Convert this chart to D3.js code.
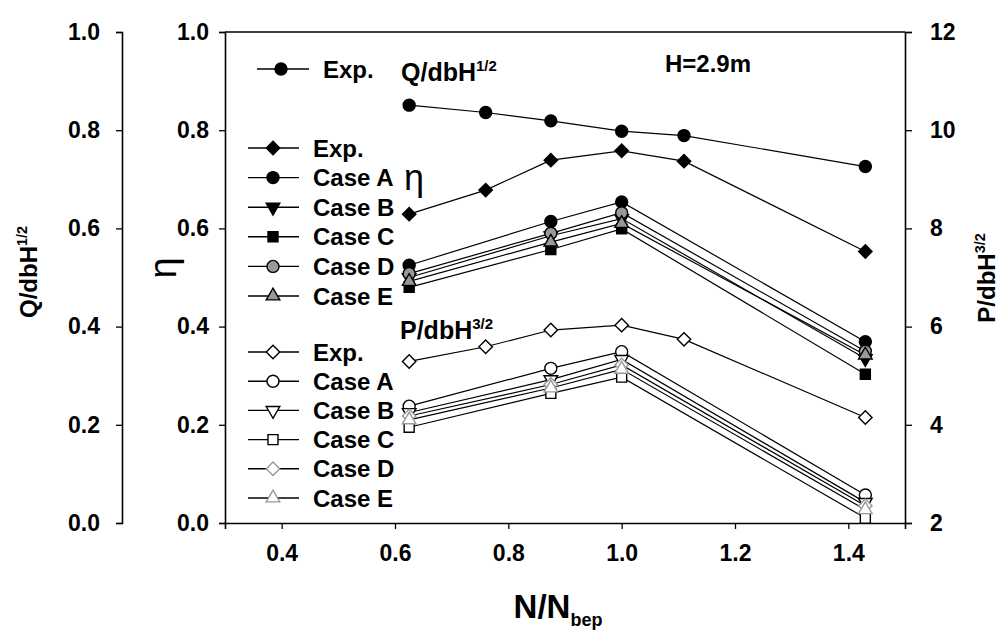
<!DOCTYPE html>
<html lang="en">
<head>
<meta charset="UTF-8">
<title>Pump performance vs N/Nbep</title>
<script src="https://d3js.org/d3.v7.min.js"></script>
<style>
  body { margin: 0; background: #fff; }
  text { font-family: "Liberation Sans", Arial, sans-serif; font-weight: bold; fill: #000; }
</style>
</head>
<body>
<svg class="canvas"></svg>
<script>
// ---- data ----
var xExp  = [0.625, 0.76, 0.875, 1.0, 1.11, 1.43];
var xCase = [0.625, 0.875, 1.0, 1.43];

var qExp   = [0.851, 0.836, 0.819, 0.798, 0.789, 0.726];
var etaExp = [0.629, 0.678, 0.739, 0.758, 0.737, 0.553];
var etaA = [0.525, 0.614, 0.654, 0.369];
var etaB = [0.500, 0.585, 0.620, 0.335];
var etaC = [0.480, 0.557, 0.599, 0.303];
var etaD = [0.508, 0.590, 0.632, 0.350];
var etaE = [0.492, 0.572, 0.610, 0.342];

var pExp = [5.29, 5.59, 5.93, 6.03, 5.74, 4.15];
var pA = [4.38, 5.15, 5.49, 2.57];
var pB = [4.25, 4.92, 5.33, 2.42];
var pC = [3.95, 4.64, 4.97, 2.10];
var pD = [4.18, 4.82, 5.22, 2.35];
var pE = [4.10, 4.75, 5.13, 2.27];

var xTicks = [0.4, 0.6, 0.8, 1.0, 1.2, 1.4];
var leftTicks = [0, 0.2, 0.4, 0.6, 0.8, 1.0];
var rightTicks = [2, 4, 6, 8, 10, 12];
var caseNames = ['Exp.', 'Case A', 'Case B', 'Case C', 'Case D', 'Case E'];

// ---- layout ----
var W = 1003, H = 636;
var plotL = 225, plotR = 905, plotT = 32, plotB = 523;

var svg = d3.select('svg').attr('width', W).attr('height', H);

var x = d3.scaleLinear().domain([0.3, 1.5]).range([plotL, plotR]);
var yL = d3.scaleLinear().domain([0, 1]).range([plotB, plotT]);
var yR = d3.scaleLinear().domain([2, 12]).range([plotB, plotT]);

function styleAxis(g, size) {
    g.select('.domain').attr('stroke', '#000').attr('stroke-width', 1.6);
    g.selectAll('.tick line').attr('stroke', '#000').attr('stroke-width', 1.3);
    g.selectAll('.tick text').style('font-size', size + 'px')
        .style('font-family', '"Liberation Sans", Arial, sans-serif').style('font-weight', 'bold');
}

// frame top
svg.append('line').attr('x1', plotL).attr('x2', plotR).attr('y1', plotT).attr('y2', plotT)
    .attr('stroke', '#000').attr('stroke-width', 1.4);

// x axis
var gx = svg.append('g').attr('transform', 'translate(0,' + plotB + ')')
    .call(d3.axisBottom(x).tickValues(xTicks).tickFormat(d3.format('.1f')).tickSizeOuter(0).tickSize(6).tickPadding(16));
styleAxis(gx, 23);

// inner eta axis
var gi = svg.append('g').attr('transform', 'translate(' + plotL + ',0)')
    .call(d3.axisLeft(yL).tickValues(leftTicks).tickFormat(d3.format('.1f')).tickSizeOuter(0).tickSize(6).tickPadding(10));
styleAxis(gi, 23);

// outer Q axis
var go = svg.append('g').attr('transform', 'translate(122,0)')
    .call(d3.axisLeft(yL).tickValues(leftTicks).tickFormat(d3.format('.1f')).tickSizeOuter(0).tickSize(6).tickPadding(16));
styleAxis(go, 23);

// right P axis
var gr = svg.append('g').attr('transform', 'translate(' + plotR + ',0)')
    .call(d3.axisRight(yR).tickValues(rightTicks).tickSizeOuter(0).tickSize(7).tickPadding(18));
styleAxis(gr, 23);

// ---- marker shapes ----
function marker(sel, kind, cx, cy) {
    var g = sel.append('g').attr('transform', 'translate(' + cx + ',' + cy + ')');
    var s = kind.shape, fill = kind.fill, stroke = kind.stroke || '#000';
    if (s === 'circle') {
        g.append('circle').attr('r', 6).attr('fill', fill).attr('stroke', stroke).attr('stroke-width', 1.4);
    } else if (s === 'diamond') {
        g.append('path').attr('d', d3.symbol().type(d3.symbolSquare).size(90)())
            .attr('transform', 'rotate(45)').attr('fill', fill).attr('stroke', stroke).attr('stroke-width', 1.4);
    } else if (s === 'square') {
        g.append('path').attr('d', d3.symbol().type(d3.symbolSquare).size(100)())
            .attr('fill', fill).attr('stroke', stroke).attr('stroke-width', 1.4);
    } else if (s === 'tdown') {
        g.append('path').attr('d', d3.symbol().type(d3.symbolTriangle).size(80)())
            .attr('transform', 'rotate(180)').attr('fill', fill).attr('stroke', stroke).attr('stroke-width', 1.4);
    } else if (s === 'tup') {
        g.append('path').attr('d', d3.symbol().type(d3.symbolTriangle).size(80)())
            .attr('fill', fill).attr('stroke', stroke).attr('stroke-width', 1.4);
    }
}

var line = function(xs, ys, yScale) {
    return d3.line().x(function(d, i) { return x(xs[i]); }).y(function(d) { return yScale(d); })(ys);
};

var series = [
    { xs: xExp,  ys: qExp,   y: yL, shape: 'circle',  fill: '#000' },
    { xs: xExp,  ys: etaExp, y: yL, shape: 'diamond', fill: '#000' },
    { xs: xCase, ys: etaA,   y: yL, shape: 'circle',  fill: '#000' },
    { xs: xCase, ys: etaB,   y: yL, shape: 'tdown',   fill: '#000' },
    { xs: xCase, ys: etaC,   y: yL, shape: 'square',  fill: '#000' },
    { xs: xCase, ys: etaD,   y: yL, shape: 'circle',  fill: '#999' },
    { xs: xCase, ys: etaE,   y: yL, shape: 'tup',     fill: '#999' },
    { xs: xExp,  ys: pExp,   y: yR, shape: 'diamond', fill: '#fff' },
    { xs: xCase, ys: pA,     y: yR, shape: 'circle',  fill: '#fff' },
    { xs: xCase, ys: pB,     y: yR, shape: 'tdown',   fill: '#fff' },
    { xs: xCase, ys: pC,     y: yR, shape: 'square',  fill: '#fff' },
    { xs: xCase, ys: pD,     y: yR, shape: 'diamond', fill: '#fff', stroke: '#999' },
    { xs: xCase, ys: pE,     y: yR, shape: 'tup',     fill: '#fff', stroke: '#999' }
];

var plot = svg.append('g');
series.forEach(function(s) {
    plot.append('path').attr('d', line(s.xs, s.ys, s.y))
        .attr('fill', 'none').attr('stroke', '#000').attr('stroke-width', 1.2);
});
series.forEach(function(s) {
    s.ys.forEach(function(v, i) { marker(plot, s, x(s.xs[i]), s.y(v)); });
});

// ---- legends ----
function legendRow(s, y, x0, x1, mx, tx, label) {
    svg.append('line').attr('x1', x0).attr('x2', x1).attr('y1', y).attr('y2', y)
        .attr('stroke', '#000').attr('stroke-width', 1.4);
    marker(svg, s, mx, y);
    svg.append('text').attr('x', tx).attr('y', y).attr('dy', '0.36em')
        .style('font-size', '24px').text(label);
}
legendRow(series[0], 69, 257, 309, 281, 323, 'Exp.');
for (var i = 0; i < 6; i++) {
    legendRow(series[1 + i], 148 + i * 29.6, 248, 299, 273, 313, caseNames[i]);
    legendRow(series[7 + i], 352 + i * 29.2, 248, 299, 273, 313, caseNames[i]);
}

// ---- labels ----
function supLabel(g, base, sup, size) {
    var t = g.append('text').style('font-size', size + 'px');
    t.append('tspan').text(base);
    t.append('tspan').attr('dy', -size * 0.42).style('font-size', (size * 0.6) + 'px').text(sup);
    return t;
}
supLabel(svg, 'Q/dbH', '1/2', 25).attr('x', 401).attr('y', 81);
supLabel(svg, 'P/dbH', '3/2', 25).attr('x', 400).attr('y', 339);
svg.append('text').attr('x', 665).attr('y', 72).style('font-size', '24px').text('H=2.9m');
svg.append('text').attr('x', 404).attr('y', 190).style('font-size', '36px')
    .style('font-weight', 'normal').text('\u03b7');

// axis titles
supLabel(svg, 'Q/dbH', '1/2', 24).attr('text-anchor', 'middle')
    .attr('transform', 'translate(37,272) rotate(-90)');
svg.append('text').attr('text-anchor', 'middle').style('font-size', '38px').style('font-weight', 'normal')
    .attr('transform', 'translate(176,268) rotate(-90)').text('\u03b7');
supLabel(svg, 'P/dbH', '3/2', 24).attr('text-anchor', 'middle')
    .attr('transform', 'translate(995,278) rotate(-90)');

var xt = svg.append('text').attr('x', 558).attr('y', 618).attr('text-anchor', 'middle').style('font-size', '33px');
xt.append('tspan').text('N/N');
xt.append('tspan').attr('dy', 8).style('font-size', '18px').text('bep');
</script>
</body>
</html>
